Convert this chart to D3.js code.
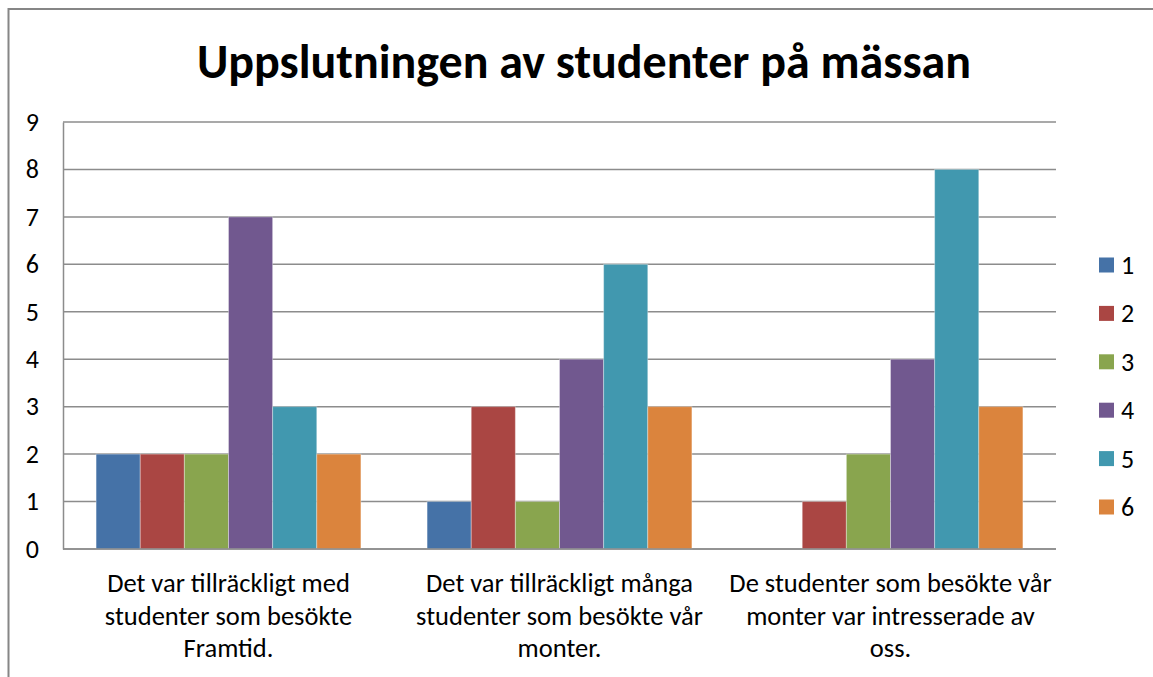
<!DOCTYPE html>
<html>
<head>
<meta charset="utf-8">
<script src="https://cdn.jsdelivr.net/npm/d3@7"></script>
<style>
  body { margin: 0; background: #fff; }
  svg { display: block; }
</style>
</head>
<body>
<div id="chart"></div>
<script>
var categories = [
    ['Det var tillräckligt med', 'studenter som besökte', 'Framtid.'],
    ['Det var tillräckligt många', 'studenter som besökte vår', 'monter.'],
    ['De studenter som besökte vår', 'monter var intresserade av', 'oss.']
];
var series_names = ['1', '2', '3', '4', '5', '6'];
var series_values = [
    [2, 1, 0],
    [2, 3, 1],
    [2, 1, 2],
    [7, 4, 4],
    [3, 6, 8],
    [2, 3, 3]
];
var y_ticks = [0, 1, 2, 3, 4, 5, 6, 7, 8, 9];
var colors = ['#4572A7', '#AA4643', '#89A54E', '#71588F', '#4198AF', '#DB843D'];

function draw_chart() {
    var width = 1153;
    var height = 677;
    var plot = { left: 63, right: 1056, top: 122, bottom: 549 };
    var font = 'Carlito, Calibri, Lato, sans-serif';

    var svg = d3.select('#chart')
        .append('svg')
        .attr('width', width)
        .attr('height', height);

    // chart frame
    svg.append('rect')
        .attr('x', 8.5)
        .attr('y', 9)
        .attr('width', 1200)
        .attr('height', 800)
        .attr('fill', 'none')
        .attr('stroke', '#868686')
        .attr('stroke-width', 2);

    svg.append('text')
        .attr('x', 584)
        .attr('y', 78)
        .attr('text-anchor', 'middle')
        .style('font-family', font)
        .style('font-weight', 700)
        .style('font-size', '48px')
        .text('Uppslutningen av studenter på mässan');

    var x0 = d3.scaleBand()
        .domain(d3.range(categories.length))
        .range([plot.left, plot.right])
        .paddingInner(0.2)
        .paddingOuter(0.1);

    var x1 = d3.scaleBand()
        .domain(d3.range(series_names.length))
        .range([0, x0.bandwidth()]);

    var y = d3.scaleLinear()
        .domain([0, 9])
        .range([plot.bottom, plot.top]);

    // gridlines
    svg.append('g')
        .selectAll('line')
        .data(y_ticks)
        .enter()
        .append('line')
        .attr('x1', plot.left)
        .attr('x2', plot.right)
        .attr('y1', function(d) { return y(d); })
        .attr('y2', function(d) { return y(d); })
        .attr('stroke', '#8c8c8c')
        .attr('stroke-width', 1.5);

    // y axis
    var y_axis = svg.append('g')
        .attr('transform', `translate(${plot.left}, 0)`)
        .call(d3.axisLeft(y).tickValues(y_ticks).tickSize(0).tickPadding(24));
    y_axis.select('.domain').attr('stroke', '#8c8c8c').attr('stroke-width', 1.5);
    y_axis.selectAll('text')
        .style('font-family', font)
        .style('font-size', '26px')
        .attr('fill', '#000');

    // bars
    var bar_data = [];
    series_values.forEach(function(vals, s) {
        vals.forEach(function(v, c) {
            bar_data.push({ s: s, c: c, v: v });
        });
    });

    svg.append('g')
        .selectAll('rect')
        .data(bar_data.filter(function(d) { return d.v > 0; }))
        .enter()
        .append('rect')
        .attr('x', function(d) { return x0(d.c) + x1(d.s); })
        .attr('width', x1.bandwidth())
        .attr('y', function(d) { return y(d.v); })
        .attr('height', function(d) { return y(0) - y(d.v); })
        .attr('fill', function(d) { return colors[d.s]; })
        .attr('stroke', 'rgba(255,255,255,0.35)')
        .attr('stroke-width', 1);

    // zero line on top
    svg.append('line')
        .attr('x1', plot.left)
        .attr('x2', plot.right)
        .attr('y1', y(0))
        .attr('y2', y(0))
        .attr('stroke', '#8c8c8c')
        .attr('stroke-width', 1.5);

    // category labels
    var cat_groups = svg.append('g')
        .selectAll('text')
        .data(categories)
        .enter()
        .append('text')
        .attr('text-anchor', 'middle')
        .style('font-family', font)
        .style('font-size', '26.5px')
        .attr('fill', '#000');

    cat_groups.selectAll('tspan')
        .data(function(d, i) { return d.map(function(line) { return { line: line, c: i }; }); })
        .enter()
        .append('tspan')
        .attr('x', function(d) { return x0(d.c) + x0.bandwidth() / 2; })
        .attr('y', function(d, i) { return 592 + i * 32.5; })
        .text(function(d) { return d.line; });

    // legend
    var legend = svg.append('g')
        .selectAll('g')
        .data(series_names)
        .enter()
        .append('g')
        .attr('transform', function(d, i) { return `translate(1099, ${265 + i * 48.4})`; });

    legend.append('rect')
        .attr('x', 0)
        .attr('y', -7.5)
        .attr('width', 15)
        .attr('height', 15)
        .attr('fill', function(d, i) { return colors[i]; });

    legend.append('text')
        .attr('x', 22)
        .attr('y', 9)
        .style('font-family', font)
        .style('font-size', '26px')
        .text(function(d) { return d; });
}

draw_chart();
</script>
</body>
</html>
